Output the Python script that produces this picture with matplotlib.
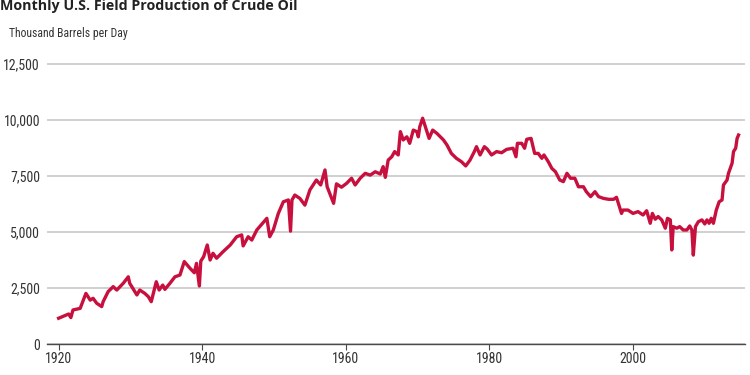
import matplotlib
matplotlib.use('Agg')
import matplotlib.pyplot as plt
from matplotlib import font_manager
from matplotlib.ticker import FuncFormatter

years = [1920.0, 1921.4, 1921.7, 1922.0, 1923.0, 1923.8, 1924.4, 1924.8, 1925.3, 1926.0,
         1926.2, 1926.9, 1927.6, 1928.1, 1929.0, 1929.7, 1929.9, 1930.9, 1931.3, 1932.0,
         1932.5, 1932.9, 1933.6, 1934.0, 1934.5, 1934.8, 1935.5, 1936.2, 1936.9, 1937.5,
         1938.3, 1938.9, 1939.2, 1939.6, 1939.8, 1940.2, 1940.7, 1941.1, 1941.5, 1942.0,
         1942.9, 1943.9, 1944.8, 1945.5, 1945.7, 1946.4, 1946.9, 1947.6, 1949.0, 1949.4,
         1949.9, 1950.6, 1951.3, 1952.0, 1952.3, 1952.5, 1952.9, 1953.6, 1954.3, 1955.0,
         1955.9, 1956.5, 1957.1, 1957.4, 1958.3, 1958.7, 1959.4, 1960.1, 1960.8, 1961.3,
         1962.0, 1962.7, 1963.4, 1964.1, 1964.8, 1965.2, 1965.5, 1965.9, 1966.4, 1966.8,
         1967.3, 1967.6, 1968.0, 1968.5, 1968.9, 1969.4, 1969.9, 1970.1, 1970.3, 1970.7,
         1971.0, 1971.6, 1972.1, 1972.7, 1973.6, 1974.1, 1974.7, 1975.4, 1976.1, 1976.7,
         1977.3, 1977.9, 1978.2, 1978.7, 1979.3, 1979.7, 1980.3, 1981.0, 1981.7, 1982.4,
         1983.3, 1983.7, 1983.9, 1984.5, 1984.9, 1985.2, 1985.8, 1986.3, 1986.8, 1987.3,
         1987.6, 1988.2, 1988.7, 1989.2, 1989.8, 1990.3, 1990.8, 1991.3, 1991.9, 1992.4,
         1993.1, 1993.5, 1994.1, 1994.7, 1995.2, 1995.9, 1996.6, 1997.3, 1997.7, 1998.1,
         1998.4, 1998.6, 1999.3, 2000.0, 2000.7, 2001.4, 2001.9, 2002.4, 2002.7, 2003.1,
         2003.5, 2004.0, 2004.5, 2004.8, 2005.2, 2005.4, 2005.6, 2006.1, 2006.5, 2007.0,
         2007.5, 2007.9, 2008.2, 2008.4, 2008.7, 2009.1, 2009.6, 2010.0, 2010.3, 2010.6,
         2010.9, 2011.2, 2011.6, 2012.0, 2012.4, 2012.6, 2013.1, 2013.3, 2013.8, 2014.0,
         2014.3, 2014.5, 2014.7]

production = [1150, 1340, 1180, 1520, 1590, 2260, 1960, 2040, 1820, 1670,
              1890, 2340, 2560, 2410, 2710, 3000, 2710, 2190, 2410, 2260,
              2110, 1890, 2780, 2410, 2630, 2440, 2710, 3000, 3080, 3680,
              3380, 3180, 3600, 2590, 3700, 3900, 4420, 3750, 4050, 3830,
              4120, 4420, 4790, 4870, 4380, 4790, 4640, 5090, 5610, 4790,
              5090, 5830, 6350, 6430, 5040, 6430, 6650, 6500, 6200, 6880,
              7320, 7100, 7770, 7020, 6280, 7150, 7000, 7170, 7400, 7100,
              7400, 7620, 7540, 7690, 7590, 7920, 7440, 8210, 8360, 8590,
              8440, 9480, 9110, 9250, 8960, 9550, 9480, 9250, 9700, 10080,
              9780, 9180, 9550, 9400, 9110, 8880, 8510, 8290, 8140, 7950,
              8210, 8590, 8810, 8440, 8810, 8700, 8440, 8590, 8540, 8690,
              8740, 8360, 8960, 8960, 8740, 9140, 9180, 8510, 8510, 8290,
              8440, 8140, 7840, 7690, 7320, 7250, 7620, 7400, 7400, 7020,
              7020, 6800, 6580, 6800, 6580, 6500, 6460, 6460, 6550, 6130,
              5830, 5980, 5980, 5830, 5910, 5760, 5950, 5390, 5830, 5570,
              5690, 5540, 5170, 5610, 5540, 4200, 5240, 5170, 5240, 5090,
              5090, 5270, 5090, 3970, 5240, 5460, 5540, 5360, 5540, 5390,
              5610, 5390, 5980, 6350, 6430, 7100, 7320, 7620, 8070, 8590,
              8740, 9180, 9330]

y_ticks = [0, 2500, 5000, 7500, 10000, 12500]
x_ticks = [1920, 1940, 1960, 1980, 2000]

RED = '#c8103e'

# look for a condensed face, otherwise shrink the regular one
installed = {f.name for f in font_manager.fontManager.ttflist}
narrow_names = [n for n in ['Liberation Sans Narrow', 'DejaVu Sans Condensed',
                            'Roboto Condensed', 'Open Sans Condensed']
                if n in installed]
if narrow_names:
    NARROW = [narrow_names[0], 'DejaVu Sans']
    TICK_SIZE = 10
else:
    NARROW = ['DejaVu Sans']
    TICK_SIZE = 8


def get_graph():
    fig = plt.figure(figsize=(7.5, 3.75), dpi=100, facecolor='white')
    ax = fig.add_axes([47 / 750, 1 - 344 / 375, 698 / 750, 286.7 / 375])

    ax.plot(years, production, color=RED, linewidth=2.4,
            solid_joinstyle='round', zorder=3)

    ax.set_xlim(1918.38, 2015.6)
    ax.set_ylim(0, 12800)
    ax.set_yticks(y_ticks)
    ax.set_xticks(x_ticks)
    ax.yaxis.set_major_formatter(FuncFormatter(lambda v, p: f'{int(v):,}'))

    ax.grid(axis='y', color='#c4c4c4', linewidth=1.1)
    ax.set_axisbelow(True)
    for name in ['top', 'right', 'left']:
        ax.spines[name].set_visible(False)
    ax.spines['bottom'].set_color('#4a4a4a')
    ax.spines['bottom'].set_linewidth(1.0)

    ax.tick_params(axis='y', length=0, pad=5, labelcolor='#333333')
    ax.tick_params(axis='x', length=4, width=0.8, color='#4a4a4a',
                   direction='out', pad=2, labelcolor='#333333')
    for lbl in ax.get_xticklabels() + ax.get_yticklabels():
        lbl.set_fontfamily(NARROW)
        lbl.set_fontsize(TICK_SIZE)

    fig.text(0.0, 1 - 10 / 375, 'Monthly U.S. Field Production of Crude Oil',
             fontsize=10.3, fontweight='bold', color='#222222',
             va='baseline', ha='left', family=['Open Sans', 'DejaVu Sans'])
    fig.text(9 / 750, 1 - 34 / 375, 'Thousand Barrels per Day',
             fontsize=TICK_SIZE - 1.5, color='#333333', va='center', ha='left',
             family=NARROW)

    fig.savefig('out.png', dpi=100, facecolor='white')


get_graph()
